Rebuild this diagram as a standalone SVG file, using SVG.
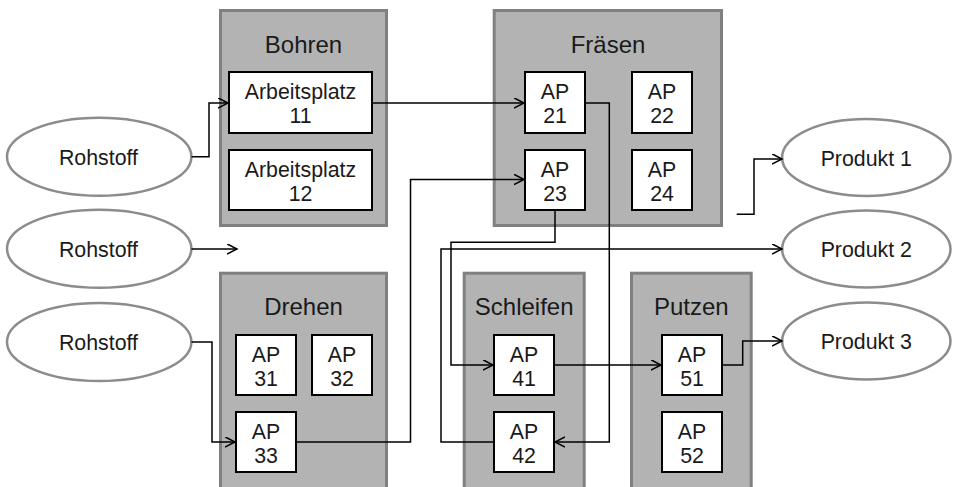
<svg xmlns="http://www.w3.org/2000/svg" width="953" height="487" viewBox="0 0 953 487">
  <style>
    .area { fill: #b3b3b3; stroke: #808080; stroke-width: 3; }
    .ap { fill: #ffffff; stroke: #000000; stroke-width: 2; }
    .ell { fill: #ffffff; stroke: #8c8c8c; stroke-width: 2.5; }
    .title { font-family: "Liberation Sans", Arial, sans-serif; font-size: 24px; fill: #1a1a1a; text-anchor: middle; }
    .lbl { font-family: "Liberation Sans", Arial, sans-serif; font-size: 21.33px; fill: #1a1a1a; text-anchor: middle; }
    .conn path { fill: none; stroke: #000000; stroke-width: 1.5; marker-end: url(#arrow); }
  </style>
  <defs>
    <marker id="arrow" markerUnits="userSpaceOnUse" markerWidth="12" markerHeight="12" refX="10" refY="5.5" orient="auto">
      <path d="M0,0.3 L10,5.5 L0,10.7" fill="none" stroke="#000000" stroke-width="1.5"/>
    </marker>
  </defs>
  <rect width="953" height="487" fill="#ffffff"/>

  <!-- Bohren -->
  <g id="bohren">
    <rect class="area" x="220.5" y="10.5" width="166" height="215"/>
    <text class="title" x="303.5" y="53">Bohren</text>
    <g id="ap11">
      <rect class="ap" x="229" y="72" width="143" height="61"/>
      <text class="lbl" x="300.5" y="99">Arbeitsplatz</text>
      <text class="lbl" x="300.5" y="123">11</text>
    </g>
    <g id="ap12">
      <rect class="ap" x="229" y="150" width="143" height="60"/>
      <text class="lbl" x="300.5" y="177">Arbeitsplatz</text>
      <text class="lbl" x="300.5" y="201">12</text>
    </g>
  </g>

  <!-- Fräsen -->
  <g id="fraesen">
    <rect class="area" x="494.2" y="10.5" width="227.3" height="215"/>
    <text class="title" x="608" y="53">Fräsen</text>
    <g id="ap21">
      <rect class="ap" x="525" y="72" width="60" height="61"/>
      <text class="lbl" x="555" y="99">AP</text>
      <text class="lbl" x="555" y="123">21</text>
    </g>
    <g id="ap22">
      <rect class="ap" x="632" y="72" width="60" height="61"/>
      <text class="lbl" x="662" y="99">AP</text>
      <text class="lbl" x="662" y="123">22</text>
    </g>
    <g id="ap23">
      <rect class="ap" x="525" y="150" width="60" height="60"/>
      <text class="lbl" x="555" y="177">AP</text>
      <text class="lbl" x="555" y="201">23</text>
    </g>
    <g id="ap24">
      <rect class="ap" x="632" y="150" width="60" height="60"/>
      <text class="lbl" x="662" y="177">AP</text>
      <text class="lbl" x="662" y="201">24</text>
    </g>
  </g>

  <!-- Drehen -->
  <g id="drehen">
    <rect class="area" x="220.5" y="273.2" width="166" height="230"/>
    <text class="title" x="303.5" y="315">Drehen</text>
    <g id="ap31">
      <rect class="ap" x="236" y="335" width="60" height="60"/>
      <text class="lbl" x="266" y="362">AP</text>
      <text class="lbl" x="266" y="386">31</text>
    </g>
    <g id="ap32">
      <rect class="ap" x="312" y="335" width="60" height="60"/>
      <text class="lbl" x="342" y="362">AP</text>
      <text class="lbl" x="342" y="386">32</text>
    </g>
    <g id="ap33">
      <rect class="ap" x="236" y="412" width="60" height="60"/>
      <text class="lbl" x="266" y="439">AP</text>
      <text class="lbl" x="266" y="463">33</text>
    </g>
  </g>

  <!-- Schleifen -->
  <g id="schleifen">
    <rect class="area" x="464.2" y="273.2" width="120" height="230"/>
    <text class="title" x="524.2" y="315">Schleifen</text>
    <g id="ap41">
      <rect class="ap" x="494" y="335" width="60" height="60"/>
      <text class="lbl" x="524" y="362">AP</text>
      <text class="lbl" x="524" y="386">41</text>
    </g>
    <g id="ap42">
      <rect class="ap" x="494" y="412" width="60" height="60"/>
      <text class="lbl" x="524" y="439">AP</text>
      <text class="lbl" x="524" y="463">42</text>
    </g>
  </g>

  <!-- Putzen -->
  <g id="putzen">
    <rect class="area" x="631.5" y="273.2" width="119.7" height="230"/>
    <text class="title" x="691.3" y="315">Putzen</text>
    <g id="ap51">
      <rect class="ap" x="662" y="335" width="60" height="60"/>
      <text class="lbl" x="692" y="362">AP</text>
      <text class="lbl" x="692" y="386">51</text>
    </g>
    <g id="ap52">
      <rect class="ap" x="662" y="412" width="60" height="60"/>
      <text class="lbl" x="692" y="439">AP</text>
      <text class="lbl" x="692" y="463">52</text>
    </g>
  </g>

  <!-- Raw material sources -->
  <g id="rohstoff1">
    <ellipse class="ell" cx="99.2" cy="156.7" rx="92.2" ry="39"/>
    <text class="lbl" x="98.5" y="165">Rohstoff</text>
  </g>
  <g id="rohstoff2">
    <ellipse class="ell" cx="99.2" cy="248.7" rx="92.2" ry="39"/>
    <text class="lbl" x="98.5" y="257">Rohstoff</text>
  </g>
  <g id="rohstoff3">
    <ellipse class="ell" cx="99.2" cy="342" rx="92.2" ry="39"/>
    <text class="lbl" x="98.5" y="350">Rohstoff</text>
  </g>

  <!-- Products -->
  <g id="produkt1">
    <ellipse class="ell" cx="866.3" cy="157.5" rx="84.2" ry="38.5"/>
    <text class="lbl" x="866.3" y="165.5">Produkt 1</text>
  </g>
  <g id="produkt2">
    <ellipse class="ell" cx="866.3" cy="249" rx="84.2" ry="38.5"/>
    <text class="lbl" x="866.3" y="257">Produkt 2</text>
  </g>
  <g id="produkt3">
    <ellipse class="ell" cx="866.3" cy="341" rx="84.2" ry="38.5"/>
    <text class="lbl" x="866.3" y="349">Produkt 3</text>
  </g>

  <!-- Material flow -->
  <g id="connectors" class="conn">
    <path d="M191.5,156.7 H209 V103 H228"/>
    <path d="M191.5,249 H237"/>
    <path d="M191.5,342 H212 V442 H235"/>
    <path d="M373,103 H524"/>
    <path d="M297,442 H410.5 V179.5 H524"/>
    <path d="M586,103 H609.3 V442 H555"/>
    <path d="M555,211 V242.3 H451 V365 H493"/>
    <path d="M493,442 H441 V249 H782"/>
    <path d="M555,365 H661"/>
    <path d="M723,365 H742.7 V341 H782"/>
    <path d="M736.7,214.3 H754 V159 H782"/>
  </g>
</svg>
